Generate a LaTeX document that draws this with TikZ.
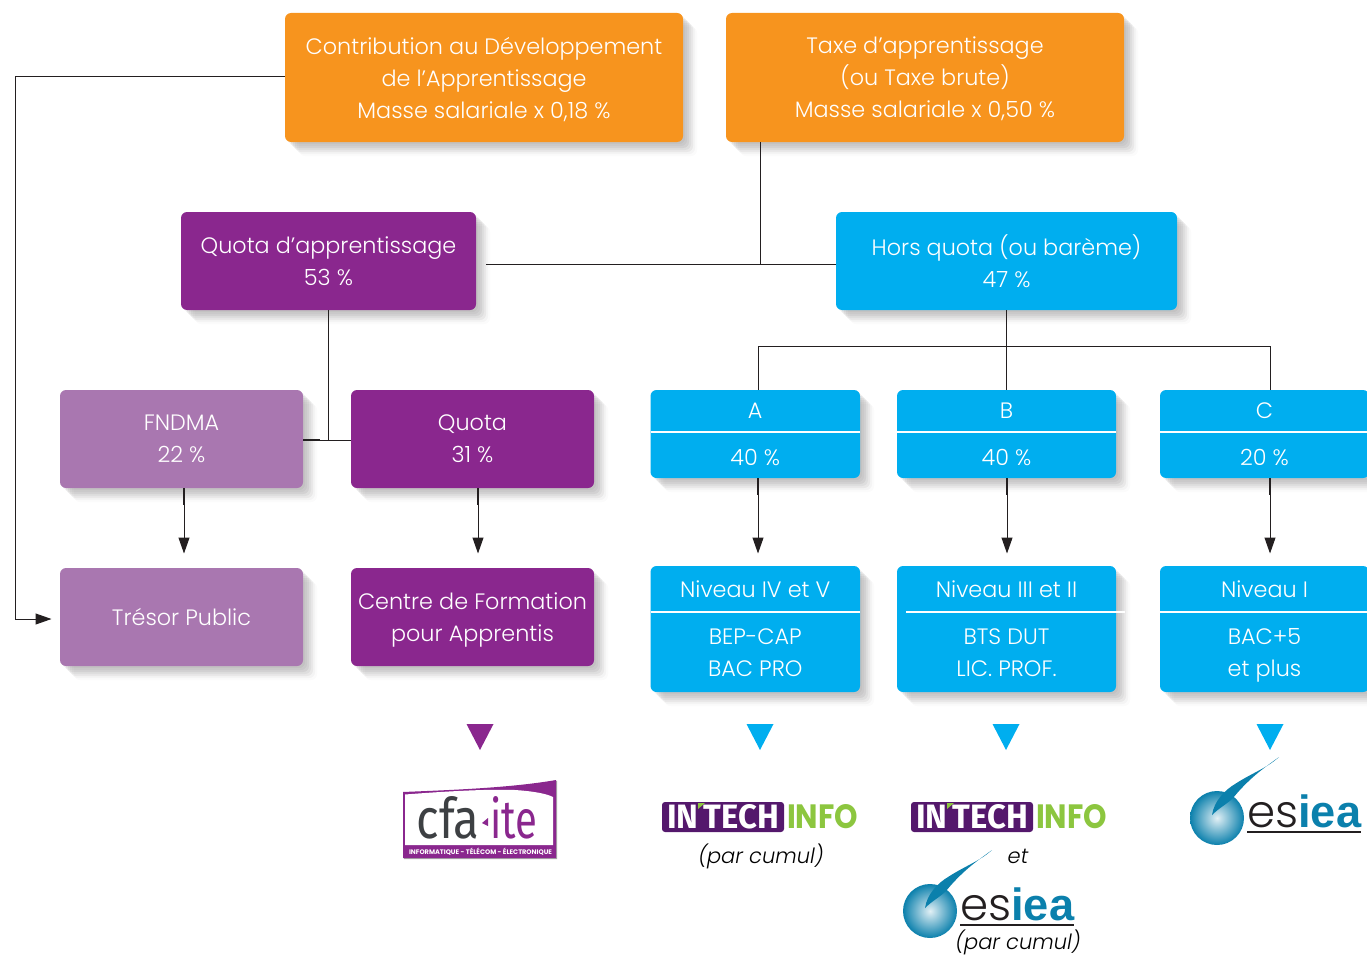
\documentclass[tikz,border=0pt]{standalone}
\usepackage{fontspec}
\setmainfont{Poppins}
\newfontfamily\boxfont{Poppins Light}
\newfontfamily\arialfont{Liberation Sans}
\newfontfamily\logofont{Fira Sans}
\usetikzlibrary{arrows.meta,shadows}
\definecolor{orangebox}{HTML}{F7941E}
\definecolor{purplebox}{HTML}{8A278E}
\definecolor{mauvebox}{HTML}{A977B0}
\definecolor{bluebox}{HTML}{00AEEF}
\definecolor{linecol}{HTML}{231F20}
\definecolor{techviolet}{HTML}{54186C}
\definecolor{techgreen}{HTML}{8CC63F}
\definecolor{esieablue}{HTML}{0B80AC}
\definecolor{cfagray}{HTML}{3D4043}
\begin{document}
\begin{tikzpicture}
  [x=1pt,y=-1pt,
  softshadow/.style={
    general shadow={shadow xshift=2pt,shadow yshift=-2pt,fill=linecol,opacity=.04},
    general shadow={shadow xshift=4pt,shadow yshift=-4pt,fill=linecol,opacity=.05},
    general shadow={shadow xshift=6pt,shadow yshift=-6pt,fill=linecol,opacity=.06},
    general shadow={shadow xshift=8pt,shadow yshift=-8pt,fill=linecol,opacity=.06},
    general shadow={shadow xshift=10pt,shadow yshift=-10pt,fill=linecol,opacity=.05},
    general shadow={shadow xshift=12pt,shadow yshift=-12pt,fill=linecol,opacity=.03},
    general shadow={shadow xshift=14pt,shadow yshift=-14pt,fill=linecol,opacity=.02}},
  box/.style={rectangle,rounded corners=6pt,softshadow,inner sep=0pt,outer sep=0pt,
    text=white,align=center,font=\boxfont\fontsize{22.3}{32}\selectfont,text depth=-1pt},
  oneline/.style={text depth=1pt},
  topbox/.style={box,fill=orangebox,minimum width=398pt,minimum height=129pt},
  midbox/.style={box,minimum height=98pt},
  sidebox/.style={midbox,minimum width=243pt},
  ratebox/.style={box,fill=bluebox,minimum height=88pt},
  levelbox/.style={box,fill=bluebox,minimum height=126pt},
  sepline/.style={white,line width=1.6pt},
  link/.style={linecol,line width=1pt},
  stub/.style={linecol,line width=1.7pt},
  arr/.style={link,-{Triangle[length=16pt,width=11pt]}},
  note/.style={text=black,font=\boxfont\itshape\fontsize{21}{24}\selectfont},
  esiealogo/.pic={
    \shade[inner color=esieablue!12,outer color=esieablue] (0,0) circle (27);
    \fill[esieablue] (-5,-3) .. controls (-3,-17) and (8,-28) .. (18,-34)
      .. controls (35,-45) and (50,-50) .. (62,-61)
      .. controls (50,-52) and (34,-42) .. (16,-20)
      .. controls (10,-14) and (2,-10) .. (-5,-3) -- cycle;
    \node[anchor=base west,inner sep=0pt,font=\arialfont] (-word) at (30,9)
      {\resizebox{114pt}{!}{\textcolor{linecol}{\boxfont es}\textcolor{esieablue}{\bfseries iea}}};
    \draw[linecol,line width=1.6pt] (30,14) -- (144,14);
  },
  techlogo/.pic={
    \fill[techviolet,rounded corners=3pt] (0,0) rectangle (122,30);
    \node[text=white,inner sep=0pt,font=\logofont\bfseries] (-tech) at (61,15)
      {\resizebox{112pt}{24pt}{IN\,TECH}};
    \fill[techgreen] (36,1) -- (43,1) -- (36,7) -- cycle;
    \node[text=techgreen,inner sep=0pt,font=\bfseries] (-info) at (160.5,15)
      {\resizebox{71pt}{24pt}{INFO}};
  }]
  \useasboundingbox (0,0) rectangle (1367,955);

  \node[topbox] (contrib) at (484,77.5) {Contribution au Développement\\de l’Apprentissage\\Masse salariale x 0,18 \%};
  \node[topbox] (taxe) at (925,77.5) {Taxe d’apprentissage\\(ou Taxe brute)\\Masse salariale x 0,50 \%};
  \node[midbox,fill=purplebox,minimum width=295pt] (quotaap) at (328.5,261) {Quota d’apprentissage\\53 \%};
  \node[midbox,fill=bluebox,minimum width=341pt] (hors) at (1006.5,261) {Hors quota (ou barème)\\47 \%};
  \node[sidebox,fill=mauvebox] (fndma) at (181.5,439) {FNDMA\\22 \%};
  \node[sidebox,fill=purplebox] (quota) at (472.5,439) {Quota\\31 \%};
  \node[sidebox,oneline,fill=mauvebox] (tresor) at (181.5,617) {Trésor Public};
  \node[sidebox,fill=purplebox] (centre) at (472.5,617) {Centre de Formation\\pour Apprentis};

  \node[ratebox,minimum width=209.5pt] (ratea) at (755.25,434) {A\\[15pt]40 \%};
  \node[ratebox,minimum width=219pt] (rateb) at (1006.5,434) {B\\[15pt]40 \%};
  \node[ratebox,minimum width=209pt] (ratec) at (1264.5,434) {C\\[15pt]20 \%};
  \node[levelbox,minimum width=209.5pt] (nivab) at (755.25,629) {Niveau IV et V\\[15pt]BEP-CAP\\BAC PRO};
  \node[levelbox,minimum width=219pt] (nivb) at (1006.5,629) {Niveau III et II\\[15pt]BTS DUT\\LIC. PROF.};
  \node[levelbox,minimum width=209pt] (nivc) at (1264.5,629) {Niveau I\\[15pt]BAC+5\\et plus};

  \draw[sepline] (650.5,432) -- (860,432);
  \draw[sepline] (897,432) -- (1116,432);
  \draw[sepline] (1160,432) -- (1367,432);
  \draw[sepline] (650.5,612) -- (860,612);
  \draw[sepline] (906,612) -- (1125,612);
  \draw[sepline] (1160,612) -- (1367,612);

  \coordinate (quotain) at (486,264);
  \coordinate (taxejoin) at (760,264);
  \coordinate (busleft) at (758,346);
  \coordinate (busright) at (1270,346);
  \coordinate (quotajoin) at (328,440);
  \coordinate (tresorin) at (60,619);

  \draw[arr,shorten >=8.5pt] (contrib.west |- 0,77) -- (15,77) |- (tresorin);
  \draw[link] (taxe.south -| taxejoin) -- (taxejoin);
  \draw[link] (quotain) -- (hors.west |- quotain);
  \draw[link] (quotaap.south -| quotajoin) -- (quotajoin);
  \draw[link] (fndma.east |- quotajoin) -- (quota.west |- quotajoin);
  \draw[stub] (fndma.east |- 0,439.5) -- (320,439.5);
  \draw[link] (hors.south) -- (rateb.north);
  \draw[link] (ratea.north -| busleft) -- (busleft) -- (busright) -- (ratec.north -| busright);

  \foreach \from/\to/\x in {fndma/tresor/184,quota/centre/478,ratea/nivab/758,rateb/nivb/1007,ratec/nivc/1270}{
    \draw[arr] (\from.south -| \x,0) -- (\x,553.5);
    \draw[stub] (\from.south -| \x,0) -- ++(0,17);
  }

  \foreach \x/\col in {480/purplebox,760/bluebox,1006/bluebox,1270/bluebox}
    \fill[\col] (\x-13.5,724) -- (\x+13.5,724) -- (\x,750) -- cycle;

  \fill[purplebox,general shadow={shadow xshift=1pt,shadow yshift=-1pt,fill=linecol,opacity=.4}] (403,792) .. controls (450,790) and (510,788) .. (556,780) -- (556,858) -- (403,858) -- cycle;
  \fill[white] (405,794.5) .. controls (450,791) and (490,789) .. (515,790) .. controls (530,791) and (545,793) .. (553,797) -- (553,845) -- (405,845) -- cycle;
  \node[text=cfagray,inner sep=0pt,font=\logofont] (cfaword) at (448,818) {\resizebox{63pt}{42pt}{cfa}};
  \node[text=purplebox,inner sep=0pt,font=\logofont] (iteword) at (514,818) {\resizebox{47pt}{42pt}{ite}};
  \fill[purplebox] (482,823) -- (488,818) -- (488,826) -- cycle;
  \node[text=white,inner sep=0pt,font=\bfseries] (cfaband) at (480.5,852) {\resizebox{143pt}{!}{INFORMATIQUE - TÉLÉCOM - ÉLECTRONIQUE}};

  \pic (techa) at (662,802) {techlogo};
  \pic (techb) at (911,802) {techlogo};
  \pic (esiea) at (1217,818) {esiealogo};
  \pic (esieb) at (930,911) {esiealogo};

  \node[note] (cumula) at (761,856) {(par cumul)};
  \node[note] (et) at (1018,856) {et};
  \node[note] (cumulb) at (1018,942) {(par cumul)};
\end{tikzpicture}
\end{document}
